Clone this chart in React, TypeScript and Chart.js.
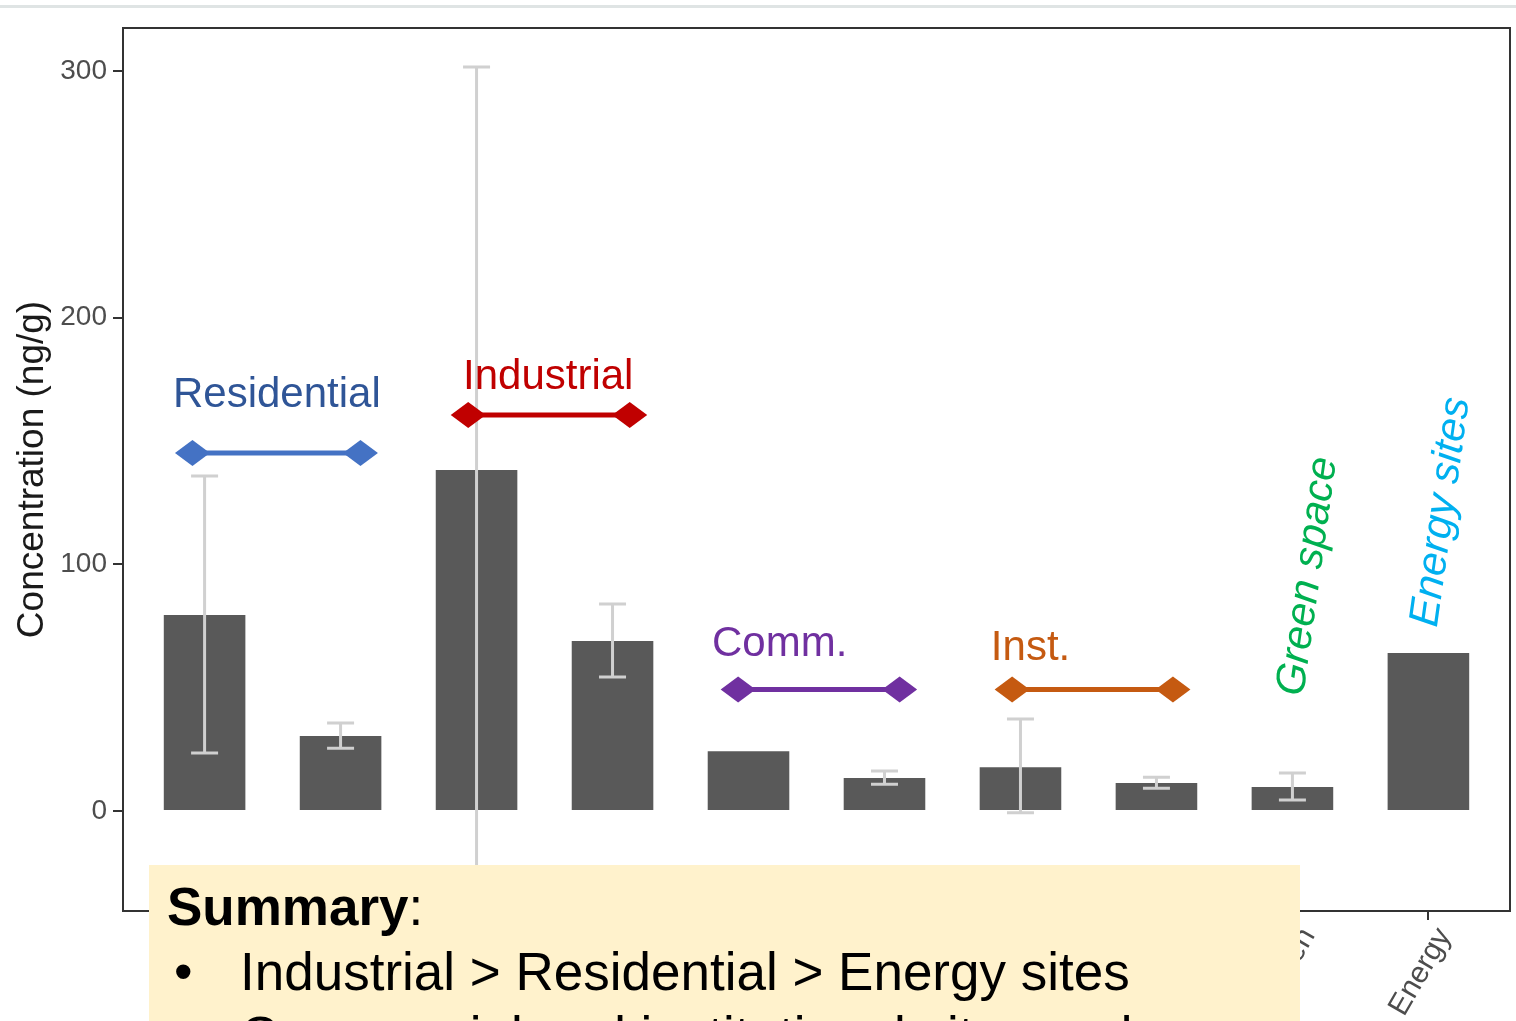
import React, { useEffect, useRef } from "react";
import { Chart, registerables } from "chart.js";

Chart.register(...registerables);

// ---- data ----
const categories = ["Res-1", "Res-2", "Ind-1", "Ind-2", "Comm-1", "Comm-2", "Inst-1", "Inst-2", "Green", "Energy"];
const means = [79.5, 30.4, 138.2, 68.9, 24.3, 13.4, 17.8, 11.4, 9.8, 64.1];
const errLow: (number | null)[] = [23.5, 25.5, -25, 54.3, null, 10.9, -0.7, 9.3, 4.5, null];
const errHigh: (number | null)[] = [135.8, 35.7, 301.6, 83.9, null, 16.2, 37.3, 13.7, 15.4, null];
const yTicks = [0, 100, 200, 300];

// ---- annotations (in axis units) ----
const groupLabels = ["Residential", "Industrial", "Comm.", "Inst."];
const groupLineColors = ["#4472c4", "#c00000", "#7030a0", "#c55a11"];
const groupTextColors = ["#2f5597", "#c00000", "#7030a0", "#c55a11"];
const bracketFrom = [-0.218, 1.81, 3.795, 5.81];
const bracketTo = [1.275, 3.255, 5.24, 7.25];
const bracketAt = [145.1, 160.5, 49.3, 49.3];
const labelFrom = [-0.218, 1.915, 3.746, 5.797];
const labelAt = [163.9, 171.1, 63.0, 61.2];

const slantLabels = ["Green space", "Energy sites"];
const slantColors = ["#00b050", "#00b0f0"];
const slantFrom = [8.099, 9.084];
const slantAt = [46.2, 74.2];

const FF = '"Liberation Sans", Arial, Helvetica, sans-serif';

const overlayPlugin = {
  id: "overlay",
  afterDatasetsDraw(chart: any) {
    const { ctx, chartArea, scales } = chart;
    const xs = scales.x;
    const ys = scales.y;

    // error bars
    ctx.save();
    ctx.strokeStyle = "#d0d0d0";
    ctx.lineWidth = 3;
    means.forEach((_, i) => {
      const lo = errLow[i];
      const hi = errHigh[i];
      if (lo == null || hi == null) return;
      const px = xs.getPixelForValue(i);
      const y1 = ys.getPixelForValue(lo);
      const y2 = ys.getPixelForValue(hi);
      const cap = 13.5;
      ctx.beginPath();
      ctx.moveTo(px, y1);
      ctx.lineTo(px, y2);
      ctx.moveTo(px - cap, y1);
      ctx.lineTo(px + cap, y1);
      ctx.moveTo(px - cap, y2);
      ctx.lineTo(px + cap, y2);
      ctx.stroke();
    });
    ctx.restore();

    // panel border
    ctx.save();
    ctx.strokeStyle = "#333333";
    ctx.lineWidth = 2;
    ctx.strokeRect(chartArea.left, chartArea.top, chartArea.right - chartArea.left, chartArea.bottom - chartArea.top);
    ctx.restore();

    // brackets
    groupLabels.forEach((label, i) => {
      const xa = xs.getPixelForValue(bracketFrom[i]);
      const xb = xs.getPixelForValue(bracketTo[i]);
      const yy = ys.getPixelForValue(bracketAt[i]);
      const hw = 17.5;
      const hh = 13;
      ctx.save();
      ctx.strokeStyle = groupLineColors[i];
      ctx.fillStyle = groupLineColors[i];
      ctx.lineWidth = 5;
      ctx.beginPath();
      ctx.moveTo(xa + hw, yy);
      ctx.lineTo(xb - hw, yy);
      ctx.stroke();
      [xa + hw, xb - hw].forEach((cx) => {
        ctx.beginPath();
        ctx.moveTo(cx - hw, yy);
        ctx.lineTo(cx, yy - hh);
        ctx.lineTo(cx + hw, yy);
        ctx.lineTo(cx, yy + hh);
        ctx.closePath();
        ctx.fill();
      });
      ctx.fillStyle = groupTextColors[i];
      ctx.font = `42px ${FF}`;
      ctx.textAlign = "left";
      ctx.textBaseline = "alphabetic";
      ctx.fillText(label, xs.getPixelForValue(labelFrom[i]) - 2, ys.getPixelForValue(labelAt[i]));
      ctx.restore();
    });

    // slanted labels
    slantLabels.forEach((label, i) => {
      ctx.save();
      ctx.translate(xs.getPixelForValue(slantFrom[i]) - 3, ys.getPixelForValue(slantAt[i]));
      ctx.rotate((-82 * Math.PI) / 180);
      ctx.fillStyle = slantColors[i];
      ctx.font = `italic 42px ${FF}`;
      ctx.textAlign = "left";
      ctx.textBaseline = "alphabetic";
      ctx.fillText(label, 0, 0);
      ctx.restore();
    });
  },
};

export default function App() {
  const canvasRef = useRef<HTMLCanvasElement | null>(null);

  useEffect(() => {
    if (!canvasRef.current) return;
    const tickFont = { family: FF, size: 28 };
    const chart = new Chart(canvasRef.current, {
      type: "bar",
      data: {
        datasets: [
          {
            data: means.map((v, i) => ({ x: i, y: v })),
            backgroundColor: "#595959",
            borderWidth: 0,
            barPercentage: 0.6,
            categoryPercentage: 1.0,
          },
        ],
      },
      options: {
        animation: false,
        responsive: false,
        maintainAspectRatio: false,
        layout: { padding: { left: 0, top: 28, right: 6, bottom: 0 } },
        plugins: { legend: { display: false }, tooltip: { enabled: false } },
        scales: {
          x: {
            type: "linear",
            offset: false,
            min: -0.6,
            max: 9.6,
            afterBuildTicks: (s: any) => {
              s.ticks = categories.map((_, i) => ({ value: i }));
            },
            afterFit: (s: any) => {
              s.height = 110;
            },
            ticks: {
              autoSkip: false,
              minRotation: 60,
              maxRotation: 60,
              font: { family: FF, size: 30 },
              color: "#4d4d4d",
              padding: 2,
              labelOffset: 16,
              callback: (_v: any, idx: number) => categories[idx],
            },
            grid: { offset: false, drawOnChartArea: false, drawTicks: true, tickLength: 9, color: "#333333", lineWidth: 2 },
            border: { display: false },
          },
          y: {
            type: "linear",
            min: -40.5,
            max: 317.4,
            afterBuildTicks: (s: any) => {
              s.ticks = yTicks.map((v) => ({ value: v }));
            },
            afterFit: (s: any) => {
              s.width = 123;
            },
            ticks: { font: tickFont, color: "#4d4d4d", padding: 6 },
            grid: { drawOnChartArea: false, drawTicks: true, tickLength: 10, color: "#333333", lineWidth: 2 },
            border: { display: false },
            title: {
              display: true,
              text: "Concentration (ng/g)",
              font: { family: FF, size: 37 },
              color: "#1a1a1a",
              padding: { top: 11, bottom: 0 },
            },
          },
        },
      },
      plugins: [overlayPlugin],
    } as any);
    return () => chart.destroy();
  }, []);

  const lineStyle: React.CSSProperties = {
    position: "absolute",
    whiteSpace: "nowrap",
    fontSize: 53,
    lineHeight: "64px",
  };

  return (
    <div
      style={{
        position: "fixed",
        left: 0,
        top: 0,
        width: 1516,
        height: 1021,
        overflow: "hidden",
        background: "#ffffff",
        fontFamily: FF,
      }}
    >
      <div style={{ position: "absolute", left: 0, top: 5, width: 1516, height: 3, background: "#dfe4e4" }} />
      <canvas ref={canvasRef} width={1516} height={1021} style={{ position: "absolute", left: 0, top: 0, width: 1516, height: 1021 }} />
      <div
        style={{
          position: "absolute",
          left: 149,
          top: 865,
          width: 1151,
          height: 220,
          background: "#fff2cc",
          color: "#000000",
        }}
      >
        <div style={{ ...lineStyle, left: 18, top: 10 }}>
          <b>Summary</b>:
        </div>
        <div style={{ ...lineStyle, left: 25, top: 75 }}>•</div>
        <div style={{ ...lineStyle, left: 91, top: 75 }}>Industrial &gt; Residential &gt; Energy sites</div>
        <div style={{ ...lineStyle, left: 25, top: 139 }}>•</div>
        <div style={{ ...lineStyle, left: 91, top: 139 }}>Commercial and institutional sites and green space</div>
      </div>
    </div>
  );
}
